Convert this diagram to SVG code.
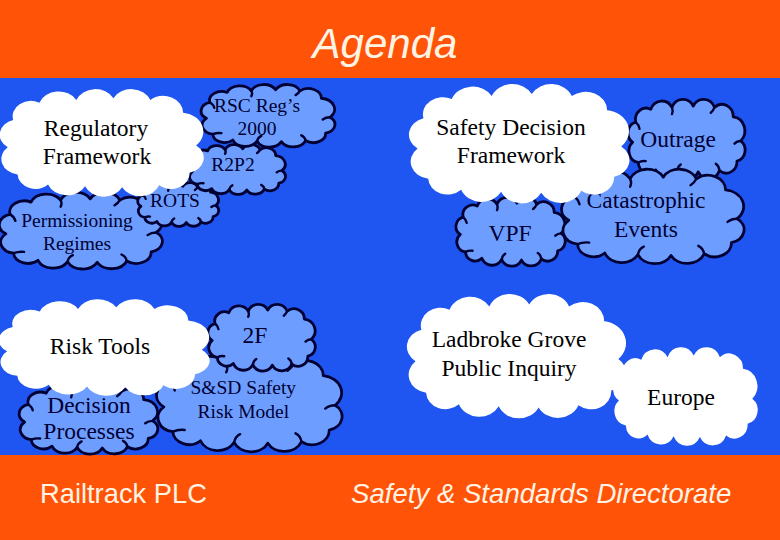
<svg xmlns="http://www.w3.org/2000/svg" xmlns:xlink="http://www.w3.org/1999/xlink" width="780" height="540" viewBox="0 0 780 540">
<style>
.band{fill:#ff5308}
.bg{fill:#1f55f0}
.hdr{font-family:"Liberation Sans",Arial,sans-serif;fill:#fff3e4}
.wc{fill:#ffffff}
.bc{fill:#6d9eff;stroke:#000033;stroke-width:2.8;stroke-linejoin:round}
.curl{fill:none;stroke:#000033;stroke-width:2.4;stroke-linecap:round}
.tw{font-family:"Liberation Serif","Times New Roman",serif;font-size:23.5px;fill:#000000;text-anchor:middle}
.tb{font-family:"Liberation Serif","Times New Roman",serif;font-size:19.5px;fill:#000033;text-anchor:middle}
.tbl{font-family:"Liberation Serif","Times New Roman",serif;font-size:23.5px;fill:#000033;text-anchor:middle}
</style>
<defs>
<path id="cloud" vector-effect="non-scaling-stroke" d="M186,62 A16.8,16.8 0 0 1 180,92 A17.2,17.2 0 0 1 152,106 A18.7,18.7 0 0 1 118,108 A18.7,18.7 0 0 1 84,107 A18.7,18.7 0 0 1 50,105 A16.5,16.5 0 0 1 22,94 A17.2,17.2 0 0 1 13,64 A16.7,16.7 0 0 1 18,34 A16.8,16.8 0 0 1 42,15 A18.8,18.8 0 0 1 76,12 A18.7,18.7 0 0 1 110,10 A18.7,18.7 0 0 1 144,12 A18.2,18.2 0 0 1 174,26 A20.9,20.9 0 0 1 186,62 Z"/>
<path id="curls" vector-effect="non-scaling-stroke" d="M152,106 q-1,-7 -6,-10 M84,107 q1,-7 6,-10 M22,94 q6,-3 12,-2 M18,34 q5,4 6,10 M76,12 q2,5 0,10 M144,12 q-2,5 -6,8 M186,62 q-6,0 -10,4"/>
</defs>
<rect class="bg" x="0" y="0" width="780" height="540"/>
<rect class="band" x="0" y="0" width="780" height="78"/>
<rect class="band" x="0" y="455" width="780" height="85"/>
<text class="hdr" x="385" y="58" font-size="42" font-style="italic" text-anchor="middle">Agenda</text>
<text class="hdr" x="40" y="503" font-size="27.3">Railtrack PLC</text>
<text class="hdr" x="351" y="503" font-size="27.6" font-style="italic">Safety &amp; Standards Directorate</text>

<g id="permissioning">
<use xlink:href="#cloud" class="bc" transform="translate(-5.5,192.4) scale(0.87,0.647)"/>
<use xlink:href="#curls" class="curl" transform="translate(-5.5,192.4) scale(0.87,0.647)"/>
<text class="tb" x="77" y="226.7">Permissioning</text>
<text class="tb" x="77" y="250">Regimes</text>
</g>
<g id="rots">
<use xlink:href="#cloud" class="bc" transform="translate(135.3,182.6) scale(0.432,0.37)"/>
<use xlink:href="#curls" class="curl" transform="translate(135.3,182.6) scale(0.432,0.37)"/>
<text class="tb" x="175" y="206.7">ROTS</text>
</g>
<g id="r2p2">
<use xlink:href="#cloud" class="bc" transform="translate(185.9,144.6) scale(0.516,0.42)"/>
<use xlink:href="#curls" class="curl" transform="translate(185.9,144.6) scale(0.516,0.42)"/>
<text class="tb" x="233" y="170.7">R2P2</text>
</g>
<g id="rsc">
<use xlink:href="#cloud" class="bc" transform="translate(197.1,84.5) scale(0.714,0.529)"/>
<use xlink:href="#curls" class="curl" transform="translate(197.1,84.5) scale(0.714,0.529)"/>
<text class="tb" x="257" y="111.7">RSC Reg’s</text>
<text class="tb" x="257" y="135">2000</text>
</g>
<g id="regulatory">
<use xlink:href="#cloud" class="wc" transform="translate(-6.4,89.1) scale(1.089,0.908)"/>
<text class="tw" x="96" y="136">Regulatory</text>
<text class="tw" x="97" y="164">Framework</text>
</g>

<g id="vpf">
<use xlink:href="#cloud" class="bc" transform="translate(452.7,197.4) scale(0.583,0.58)"/>
<use xlink:href="#curls" class="curl" transform="translate(452.7,197.4) scale(0.583,0.58)"/>
<text class="tbl" x="510" y="241">VPF</text>
</g>
<g id="outrage">
<use xlink:href="#cloud" class="bc" transform="translate(624.5,99.3) scale(0.625,0.672)"/>
<use xlink:href="#curls" class="curl" transform="translate(624.5,99.3) scale(0.625,0.672)"/>
<text class="tbl" x="678" y="146.7">Outrage</text>
</g>
<g id="catastrophic">
<use xlink:href="#cloud" class="bc" transform="translate(556.1,169.2) scale(0.974,0.798)"/>
<use xlink:href="#curls" class="curl" transform="translate(556.1,169.2) scale(0.974,0.798)"/>
<text class="tbl" x="646" y="207.7">Catastrophic</text>
<text class="tbl" x="646" y="236.7">Events</text>
</g>
<g id="safety-decision">
<use xlink:href="#cloud" class="wc" transform="translate(402.3,84) scale(1.177,1.008)"/>
<text class="tw" x="511" y="135">Safety Decision</text>
<text class="tw" x="511" y="162.7">Framework</text>
</g>

<g id="decision">
<use xlink:href="#cloud" class="bc" transform="translate(15,384.4) scale(0.74,0.588)"/>
<use xlink:href="#curls" class="curl" transform="translate(15,384.4) scale(0.74,0.588)"/>
<text class="tbl" x="89" y="413.3">Decision</text>
<text class="tbl" x="89" y="439.3">Processes</text>
</g>
<g id="sssd">
<use xlink:href="#cloud" class="bc" transform="translate(151,354.2) scale(0.99,0.824)"/>
<use xlink:href="#curls" class="curl" transform="translate(151,354.2) scale(0.99,0.824)"/>
<text class="tb" x="243.3" y="394">S&amp;SD Safety</text>
<text class="tb" x="243.3" y="418.3">Risk Model</text>
</g>
<g id="twof">
<use xlink:href="#cloud" class="bc" transform="translate(204.7,304.4) scale(0.573,0.563)"/>
<use xlink:href="#curls" class="curl" transform="translate(204.7,304.4) scale(0.573,0.563)"/>
<text class="tbl" x="255" y="343.3">2F</text>
</g>
<g id="risk-tools">
<use xlink:href="#cloud" class="wc" transform="translate(-7.5,299.2) scale(1.125,0.815)"/>
<text class="tw" x="100" y="354">Risk Tools</text>
</g>

<g id="ladbroke">
<use xlink:href="#cloud" class="wc" transform="translate(400.3,294) scale(1.172,1.05)"/>
<text class="tw" x="509" y="347.3">Ladbroke Grove</text>
<text class="tw" x="509" y="375.7">Public Inquiry</text>
</g>
<g id="europe">
<use xlink:href="#cloud" class="wc" transform="translate(608.9,347.2) scale(0.771,0.832)"/>
<text class="tw" x="681" y="405">Europe</text>
</g>
<g id="connectors"></g>
</svg>
